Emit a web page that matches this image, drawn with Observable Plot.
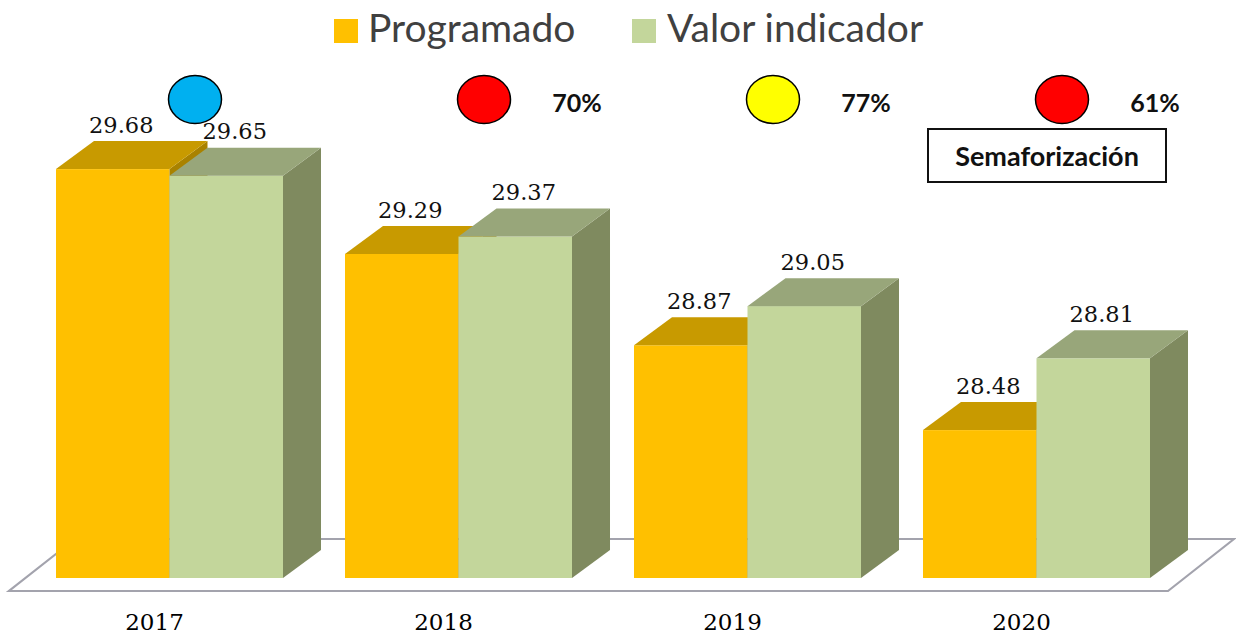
<!DOCTYPE html>
<html>
<head>
<meta charset="utf-8">
<script src="https://cdn.jsdelivr.net/npm/d3@7"></script>
<script src="https://cdn.jsdelivr.net/npm/@observablehq/plot@0.6"></script>
<style>
  html, body { margin: 0; padding: 0; background: #fff; }
  #wrap { position: relative; width: 1236px; height: 637px; overflow: hidden; }
  #legend { position: relative; width: 1236px; height: 62px; font-family: Lato, sans-serif; }
  .sw { position: absolute; top: 19px; width: 24px; height: 24px; }
  .lt { position: absolute; top: 8px; font-size: 39px; line-height: 1; color: #404040; white-space: nowrap; }
  #box { position: absolute; left: 927px; top: 128px; width: 236px; height: 51px; border: 2px solid #111;
         font-family: Lato, sans-serif; font-weight: 700; font-size: 27px; color: #111;
         display: flex; align-items: center; justify-content: center; box-sizing: content-box; }
  #chart svg { display: block; }
</style>
</head>
<body>
<div id="wrap">
  <div id="legend"></div>
  <div id="chart"></div>
  <div id="box"></div>
</div>
<script>
// ---- data ----
const years = ["2017", "2018", "2019", "2020"];
const seriesNames = ["Programado", "Valor indicador"];
const programado = [29.68, 29.29, 28.87, 28.48];
const valorIndicador = [29.65, 29.37, 29.05, 28.81];
const semaforoColors = ["#00B0F0", "#FF0000", "#FFFF00", "#FF0000"];
const semaforoPct = ["", "70%", "77%", "61%"];
const boxLabel = "Semaforización";
const yMin = 27.8;
const yMax = 30;

// ---- styles ----
const palette = {
  "Programado": {front: "#FFC000", top: "#C89A00", side: "#A98200", legend: "#FFC000"},
  "Valor indicador": {front: "#C3D69B", top: "#98A67A", side: "#7F8A5F", legend: "#C3D69B"}
};
const DX = 38, DY = 28;

const rows = years.flatMap((yr, i) => [
  {year: yr, series: seriesNames[0], value: programado[i]},
  {year: yr, series: seriesNames[1], value: valorIndicador[i]}
]);
const semaforo = years.map((yr, i) => ({year: yr, color: semaforoColors[i], pct: semaforoPct[i]}));

// legend (HTML, above the svg)
const legend = document.getElementById("legend");
const legendPos = [[334, 368], [632, 667]];
seriesNames.forEach((s, k) => {
  const sw = document.createElement("div");
  sw.className = "sw"; sw.style.left = legendPos[k][0] + "px"; sw.style.background = palette[s].legend;
  const t = document.createElement("div");
  t.className = "lt"; t.style.left = legendPos[k][1] + "px"; t.textContent = s;
  legend.appendChild(sw); legend.appendChild(t);
});
document.getElementById("box").textContent = boxLabel;

function bars3D(index, scales, values) {
  const g = d3.create("svg:g");
  const bw = scales.x.bandwidth();
  const half = bw / 2;
  const [r0, r1] = scales.x.range();
  const yb = scales.y(yMin);
  // floor
  const fy = yb + 13, by = fy - 52, fl = r0 - 47, fr = r1 + 18, sl = 66;
  g.append("path")
    .attr("d", `M${fl},${fy}L${fr},${fy}L${fr + sl},${by}L${fl + sl},${by}Z`)
    .attr("fill", "#fff").attr("stroke", "#A3A3AD").attr("stroke-width", 2.2);
  for (const i of index) {
    const r = rows[i];
    const s = seriesNames.indexOf(r.series);
    const c = palette[r.series];
    const x0 = values.x[i] + s * half, x1 = x0 + half;
    const y0 = values.y1[i], yt = values.y2[i];
    g.append("rect").attr("x", x0).attr("y", yt).attr("width", half).attr("height", y0 - yt).attr("fill", c.front);
    g.append("path").attr("d", `M${x1},${yt}L${x1 + DX},${yt - DY}L${x1 + DX},${y0 - DY}L${x1},${y0}Z`).attr("fill", c.side);
    g.append("path").attr("d", `M${x0},${yt}L${x0 + DX},${yt - DY}L${x1 + DX},${yt - DY}L${x1},${yt}Z`).attr("fill", c.top);
  }
  return g.node();
}

const ellipse = {
  draw(ctx) {
    const rx = 26.5, ry = 24, k = 0.5523;
    ctx.moveTo(rx, 0);
    ctx.bezierCurveTo(rx, ry * k, rx * k, ry, 0, ry);
    ctx.bezierCurveTo(-rx * k, ry, -rx, ry * k, -rx, 0);
    ctx.bezierCurveTo(-rx, -ry * k, -rx * k, -ry, 0, -ry);
    ctx.bezierCurveTo(rx * k, -ry, rx, -ry * k, rx, 0);
    ctx.closePath();
  }
};

const xRange = [56, 1150];
const padIn = 0.2145;
const step = (xRange[1] - xRange[0]) / (years.length - padIn);
const quarter = step * (1 - padIn) / 4;
const valueFont = "DejaVu Serif";

const chart = Plot.plot({
  width: 1236,
  height: 575,
  margin: 0,
  style: {background: "transparent", overflow: "visible"},
  x: {type: "band", domain: years, range: xRange, paddingInner: padIn, paddingOuter: 0, round: false, axis: null},
  y: {domain: [yMin, yMax], range: [516, 37.5], axis: null},
  marks: [
    Plot.barY(rows, {x: "year", y1: yMin, y2: "value", render: bars3D}),
    Plot.text(rows.filter(d => d.series === seriesNames[0]), {
      x: "year", y: "value", text: d => d.value.toFixed(2), dx: -quarter + 8, dy: -44,
      fontFamily: valueFont, fontSize: 22.5, fill: "#111"
    }),
    Plot.text(rows.filter(d => d.series === seriesNames[1]), {
      x: "year", y: "value", text: d => d.value.toFixed(2), dx: quarter + 8, dy: -44,
      fontFamily: valueFont, fontSize: 22.5, fill: "#111"
    }),
    Plot.text(years, {
      x: d => d, text: d => d, frameAnchor: "bottom", lineAnchor: "middle", dy: -15, dx: -15.5,
      fontFamily: valueFont, fontSize: 23, fill: "#000"
    }),
    Plot.dot(semaforo, {
      x: "year", frameAnchor: "top", dy: 37, dx: 25, symbol: ellipse,
      fill: d => d.color, stroke: "#000", strokeWidth: 1.5
    }),
    Plot.text(semaforo, {
      x: "year", text: "pct", frameAnchor: "top", lineAnchor: "middle", dy: 41, dx: 118,
      fontFamily: "Lato", fontWeight: 700, fontSize: 25, fill: "#111"
    })
  ]
});
document.getElementById("chart").appendChild(chart);
</script>
</body>
</html>
